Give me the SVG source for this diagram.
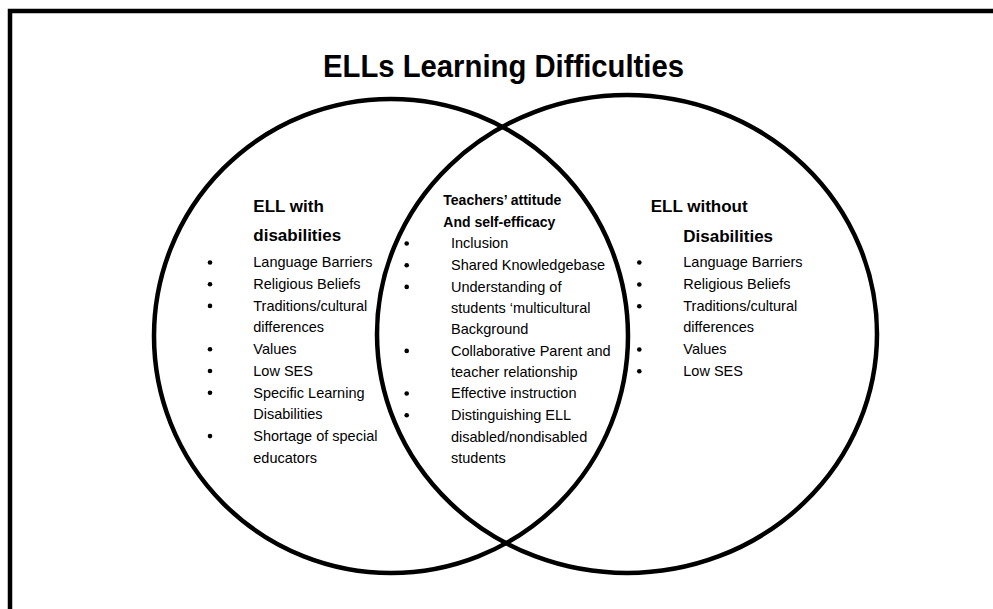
<svg xmlns="http://www.w3.org/2000/svg" width="993" height="609" viewBox="0 0 993 609">
<style>
.frame{fill:none;stroke:#000;stroke-width:4.5}
.ring{fill:none;stroke:#000;stroke-width:4.5}
.title{font-family:"Liberation Sans",Arial,sans-serif;font-weight:bold;font-size:30.5px;fill:#000}
.head{font-family:"Liberation Sans",Arial,sans-serif;font-weight:bold;font-size:17px;fill:#000}
.chead{font-family:"Liberation Sans",Arial,sans-serif;font-weight:bold;font-size:14px;fill:#000}
.item{font-family:"Liberation Sans",Arial,sans-serif;font-size:14.5px;fill:#000}
.dot{fill:#000}
</style>
<defs><circle id="b" r="2.3" class="dot"/></defs>
<rect width="993" height="609" fill="#fff"/>
<path class="frame" d="M10,612 V11 H996"/>
<text class="title" x="323" y="77" textLength="361" lengthAdjust="spacingAndGlyphs">ELLs Learning Difficulties</text>
<g id="connectors">
<ellipse class="ring" cx="391" cy="336" rx="237" ry="237"/>
<ellipse class="ring" cx="627" cy="334" rx="250" ry="239"/>
</g>
<g id="left">
<text class="head" x="253.3" y="212">ELL with</text>
<text class="head" x="253.3" y="241">disabilities</text>
<use href="#b" x="210" y="262.5"/>
<use href="#b" x="210" y="284.2"/>
<use href="#b" x="210" y="305.9"/>
<use href="#b" x="210" y="349.3"/>
<use href="#b" x="210" y="371"/>
<use href="#b" x="210" y="392.7"/>
<use href="#b" x="210" y="436.1"/>
<text class="item" x="253.3" y="267.3">Language Barriers</text>
<text class="item" x="253.3" y="289">Religious Beliefs</text>
<text class="item" x="253.3" y="310.7">Traditions/cultural</text>
<text class="item" x="253.3" y="332.4">differences</text>
<text class="item" x="253.3" y="354.1">Values</text>
<text class="item" x="253.3" y="375.8">Low SES</text>
<text class="item" x="253.3" y="397.5">Specific Learning</text>
<text class="item" x="253.3" y="419.2">Disabilities</text>
<text class="item" x="253.3" y="440.9">Shortage of special</text>
<text class="item" x="253.3" y="462.6">educators</text>
</g>
<g id="center">
<text class="chead" x="443.3" y="205">Teachers’ attitude</text>
<text class="chead" x="443.3" y="226.7">And self-efficacy</text>
<use href="#b" x="406.7" y="243.5"/>
<use href="#b" x="406.7" y="265.2"/>
<use href="#b" x="406.7" y="286.9"/>
<use href="#b" x="406.7" y="350.9"/>
<use href="#b" x="406.7" y="393.5"/>
<use href="#b" x="406.7" y="415.2"/>
<text class="item" x="451" y="248.3">Inclusion</text>
<text class="item" x="451" y="270">Shared Knowledgebase</text>
<text class="item" x="451" y="291.7">Understanding of</text>
<text class="item" x="451" y="312.7">students ‘multicultural</text>
<text class="item" x="451" y="334">Background</text>
<text class="item" x="451" y="355.7">Collaborative Parent and</text>
<text class="item" x="451" y="376.7">teacher relationship</text>
<text class="item" x="451" y="398.3">Effective instruction</text>
<text class="item" x="451" y="420">Distinguishing ELL</text>
<text class="item" x="451" y="441.7">disabled/nondisabled</text>
<text class="item" x="451" y="462.7">students</text>
</g>
<g id="right">
<text class="head" x="650.7" y="211.7">ELL without</text>
<text class="head" x="683.3" y="241.7">Disabilities</text>
<use href="#b" x="639.3" y="262.5"/>
<use href="#b" x="639.3" y="284.5"/>
<use href="#b" x="639.3" y="306.2"/>
<use href="#b" x="639.3" y="349.5"/>
<use href="#b" x="639.3" y="371.2"/>
<text class="item" x="683.3" y="267.3">Language Barriers</text>
<text class="item" x="683.3" y="289.3">Religious Beliefs</text>
<text class="item" x="683.3" y="311">Traditions/cultural</text>
<text class="item" x="683.3" y="332.3">differences</text>
<text class="item" x="683.3" y="354.3">Values</text>
<text class="item" x="683.3" y="376">Low SES</text>
</g>
</svg>
